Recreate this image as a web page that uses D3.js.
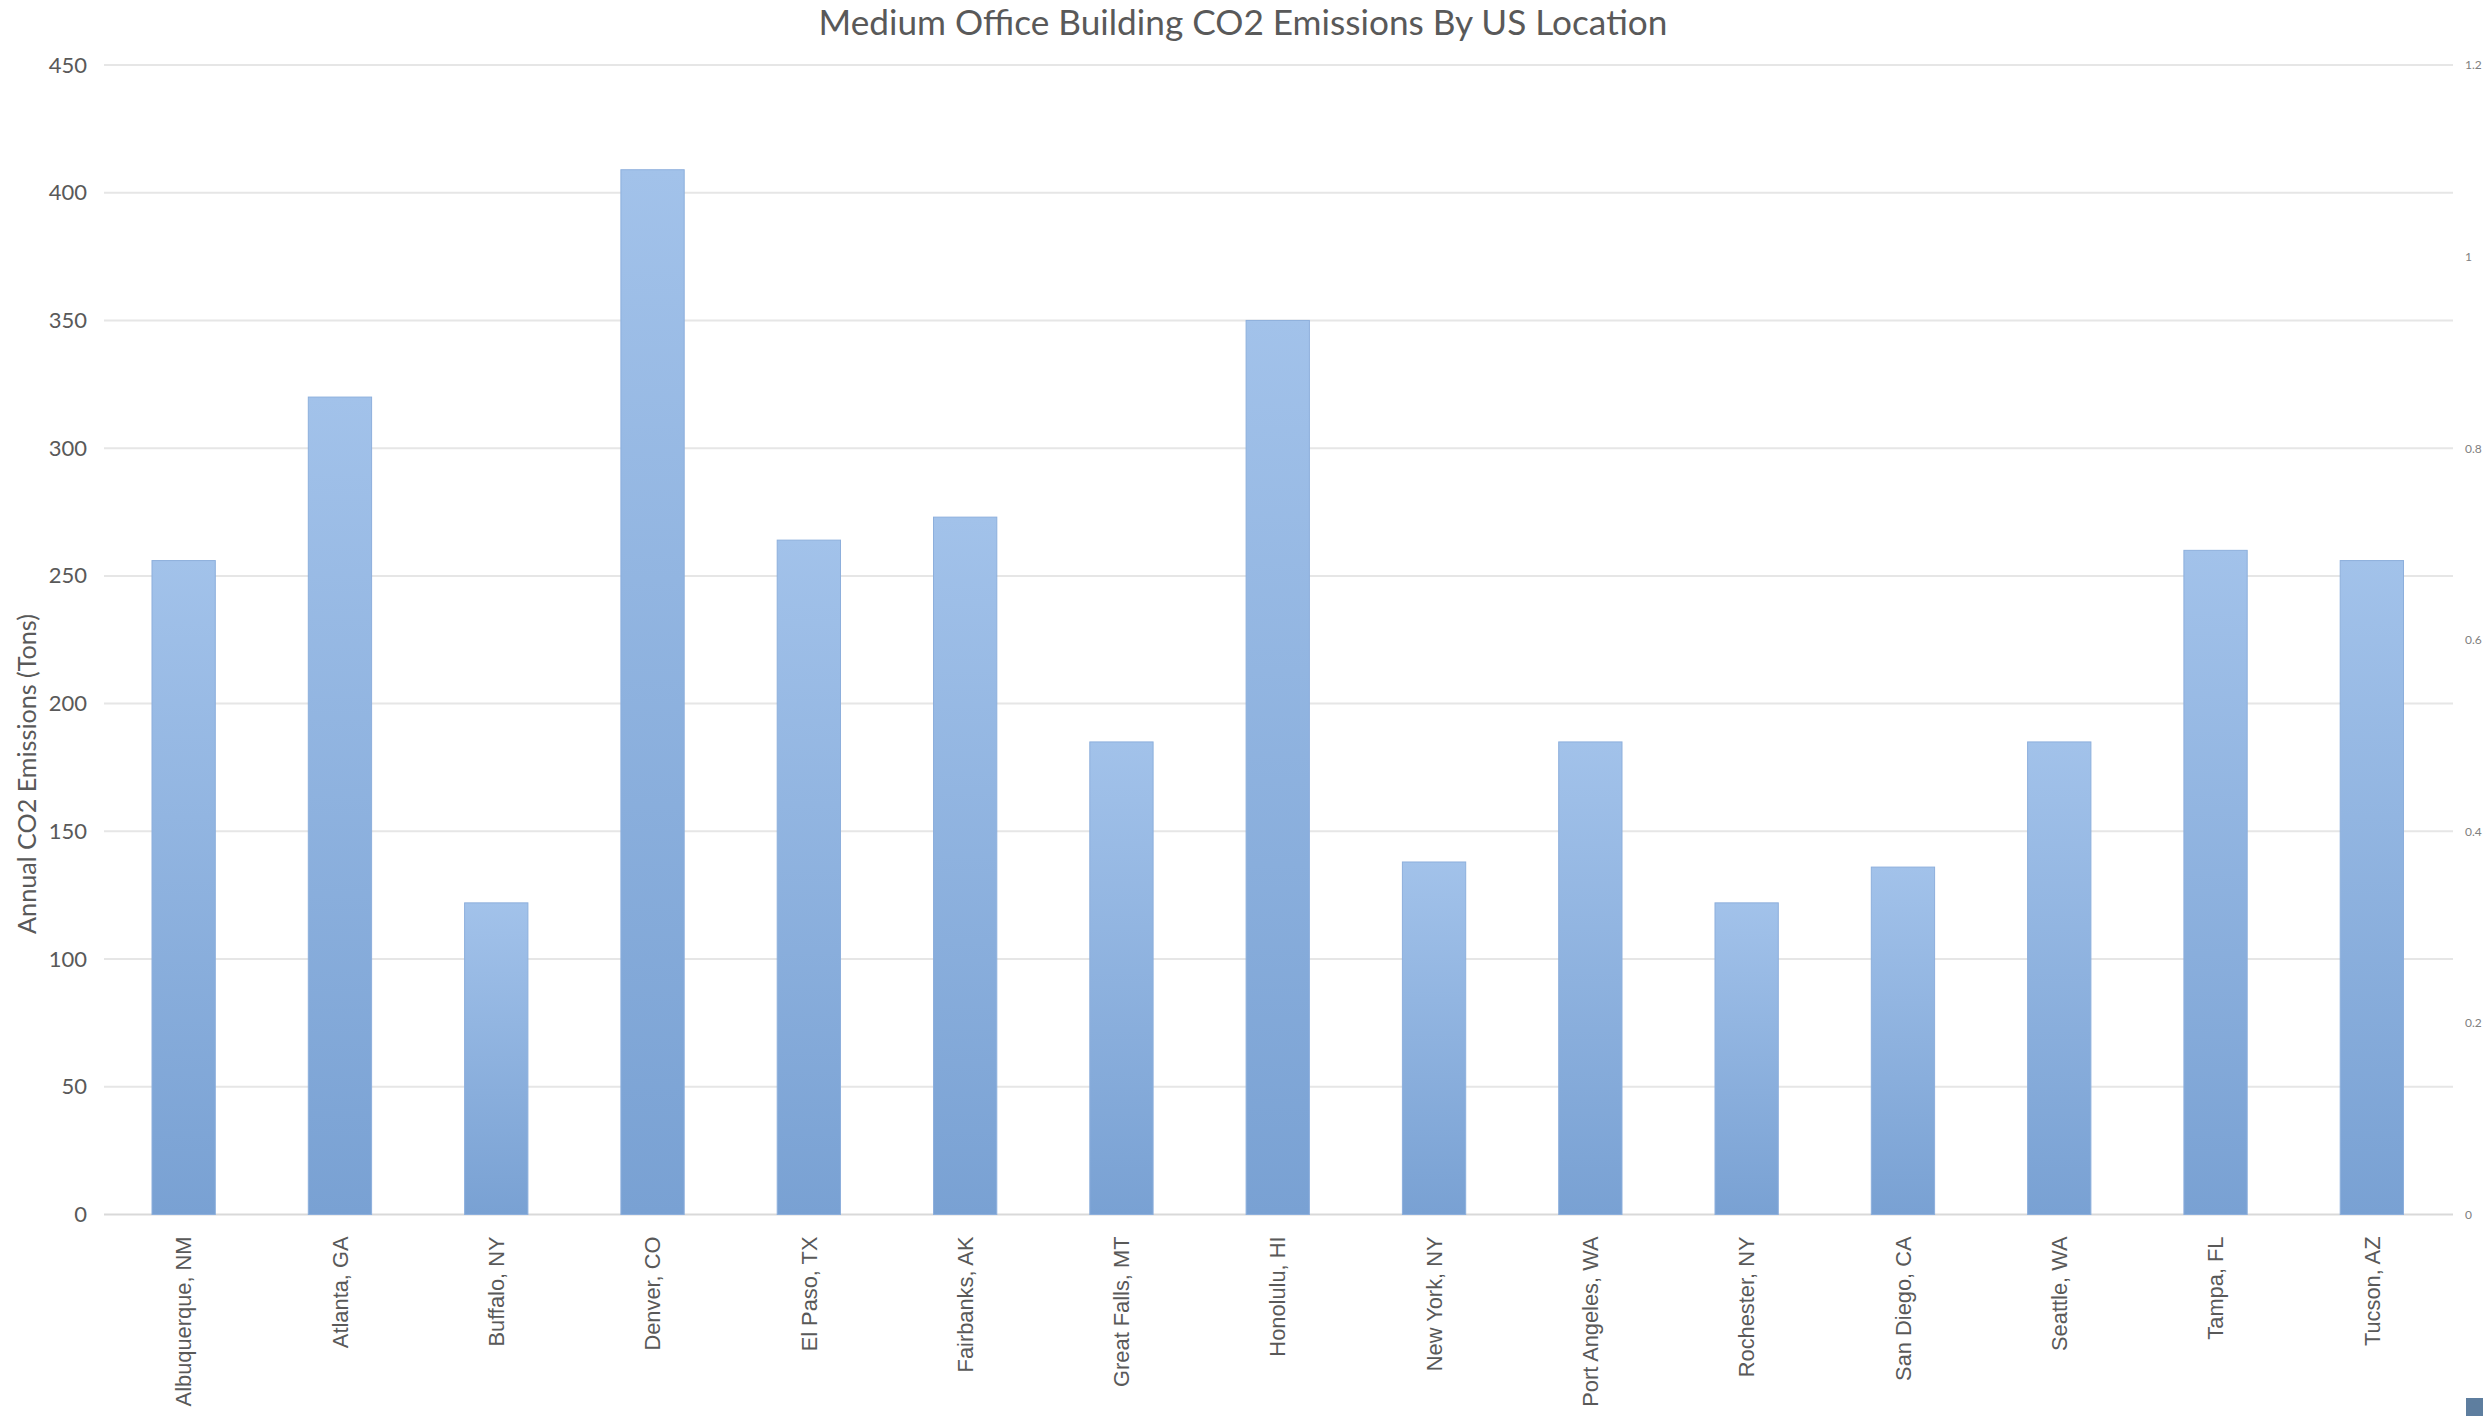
<!DOCTYPE html>
<html>
<head>
<meta charset="utf-8">
<script src="https://cdn.jsdelivr.net/npm/d3@7"></script>
<style>
  html, body { margin: 0; padding: 0; background: #ffffff; }
  svg { display: block; }
</style>
</head>
<body>
<svg id="chart" width="2483" height="1416"></svg>
<script>
// Locations and annual CO2 emissions (tons) for a medium office building
const categories = [
  "Albuquerque, NM", "Atlanta, GA", "Buffalo, NY", "Denver, CO", "El Paso, TX",
  "Fairbanks, AK", "Great Falls, MT", "Honolulu, HI", "New York, NY", "Port Angeles, WA",
  "Rochester, NY", "San Diego, CA", "Seattle, WA", "Tampa, FL", "Tucson, AZ"
];
const emissions = [256, 320, 122, 409, 264, 273, 185, 350, 138, 185, 122, 136, 185, 260, 256];

// Axis tick values
const leftTicks = [0, 50, 100, 150, 200, 250, 300, 350, 400, 450];
const rightTicks = [0, 0.2, 0.4, 0.6, 0.8, 1, 1.2];

const titleText = "Medium Office Building CO2 Emissions By US Location";
const yTitleText = "Annual CO2 Emissions (Tons)";

const W = 2483, H = 1416;
const plot = { left: 105.5, right: 2450, top: 65, bottom: 1214.5 };
const gridX0 = 104, gridX1 = 2453;

const svg = d3.select("#chart");

const x = d3.scaleBand()
  .domain(categories)
  .range([plot.left, plot.right])
  .paddingInner(0.595)
  .paddingOuter(0.2975);

const y = d3.scaleLinear().domain([0, 450]).range([plot.bottom, plot.top]);
const yRight = d3.scaleLinear().domain([0, 1.2]).range([plot.bottom, plot.top]);

// Bar fill: lighter at the top, deeper blue toward the base
const defs = svg.append("defs");
const grad = defs.append("linearGradient")
  .attr("id", "barFill").attr("x1", 0).attr("y1", 0).attr("x2", 0).attr("y2", 1);
grad.append("stop").attr("offset", "0%").attr("stop-color", "#a2c2ea");
grad.append("stop").attr("offset", "100%").attr("stop-color", "#79a1d3");

// Horizontal gridlines
svg.append("g")
  .selectAll("line")
  .data(leftTicks)
  .join("line")
  .attr("x1", gridX0).attr("x2", gridX1)
  .attr("y1", d => y(d)).attr("y2", d => y(d))
  .attr("stroke", d => d === 0 ? "#d9d9d9" : "#e6e6e6")
  .attr("stroke-width", 2);

// Bars
svg.append("g")
  .selectAll("rect")
  .data(emissions)
  .join("rect")
  .attr("x", (d, i) => x(categories[i]))
  .attr("width", x.bandwidth())
  .attr("y", d => y(d))
  .attr("height", d => y(0) - y(d))
  .attr("fill", "url(#barFill)")
  .attr("stroke", "#8dafdc")
  .attr("stroke-width", 1);

// Left axis labels
const leftAxis = d3.axisLeft(y).tickValues(leftTicks).tickSize(0).tickPadding(0).tickFormat(d3.format("d"));
const gLeft = svg.append("g").attr("transform", "translate(87,0)").call(leftAxis);
gLeft.select(".domain").remove();
gLeft.selectAll("text")
  .attr("font-family", "Lato, 'Open Sans', sans-serif")
  .attr("font-size", 22)
  .attr("fill", "#595959");

// Right (secondary) axis labels
const rightAxis = d3.axisRight(yRight).tickValues(rightTicks).tickSize(0).tickPadding(0).tickFormat(d => d3.format("~g")(d));
const gRight = svg.append("g").attr("transform", "translate(2465,0)").call(rightAxis);
gRight.select(".domain").remove();
gRight.selectAll("text")
  .attr("font-family", "Lato, 'Open Sans', sans-serif")
  .attr("font-size", 12)
  .attr("fill", "#808080");

// Category labels, rotated to read bottom-up
const bottomAxis = d3.axisBottom(x).tickSize(0).tickPadding(0);
const gBottom = svg.append("g").attr("transform", `translate(0,${plot.bottom})`).call(bottomAxis);
gBottom.select(".domain").remove();
const xLabels = gBottom.selectAll("text")
  .attr("font-family", "'Liberation Sans', Arial, sans-serif")
  .attr("font-size", 22)
  .attr("fill", "#595959")
  .attr("text-anchor", "end")
  .attr("transform", "rotate(-90)")
  .attr("x", -22)
  .attr("y", 0)
  .attr("dy", "0.35em");

// Scale category labels so the longest location name spans its measured length
const firstLen = xLabels.nodes()[0].getComputedTextLength();
const xFont = 22 * 170 / firstLen;
xLabels.attr("font-size", xFont);

// Chart title
const title = svg.append("text")
  .attr("x", 1243).attr("y", 35)
  .attr("text-anchor", "middle")
  .attr("font-family", "Lato, 'Open Sans', sans-serif")
  .attr("font-size", 34)
  .attr("fill", "#595959")
  .text(titleText);
const tLen = title.node().getComputedTextLength();
title.attr("font-size", 34 * 849 / tLen);

// Vertical axis title
const yTitle = svg.append("text")
  .attr("transform", "translate(36,774) rotate(-90)")
  .attr("text-anchor", "middle")
  .attr("font-family", "Lato, 'Open Sans', sans-serif")
  .attr("font-size", 26)
  .attr("fill", "#595959")
  .text(yTitleText);
const yLen = yTitle.node().getComputedTextLength();
yTitle.attr("font-size", 26 * 320 / yLen);

// Small corner marker at the lower right
svg.append("rect")
  .attr("x", W - 17).attr("y", H - 18)
  .attr("width", 17).attr("height", 18)
  .attr("fill", "#5e7e9f");
</script>
</body>
</html>
